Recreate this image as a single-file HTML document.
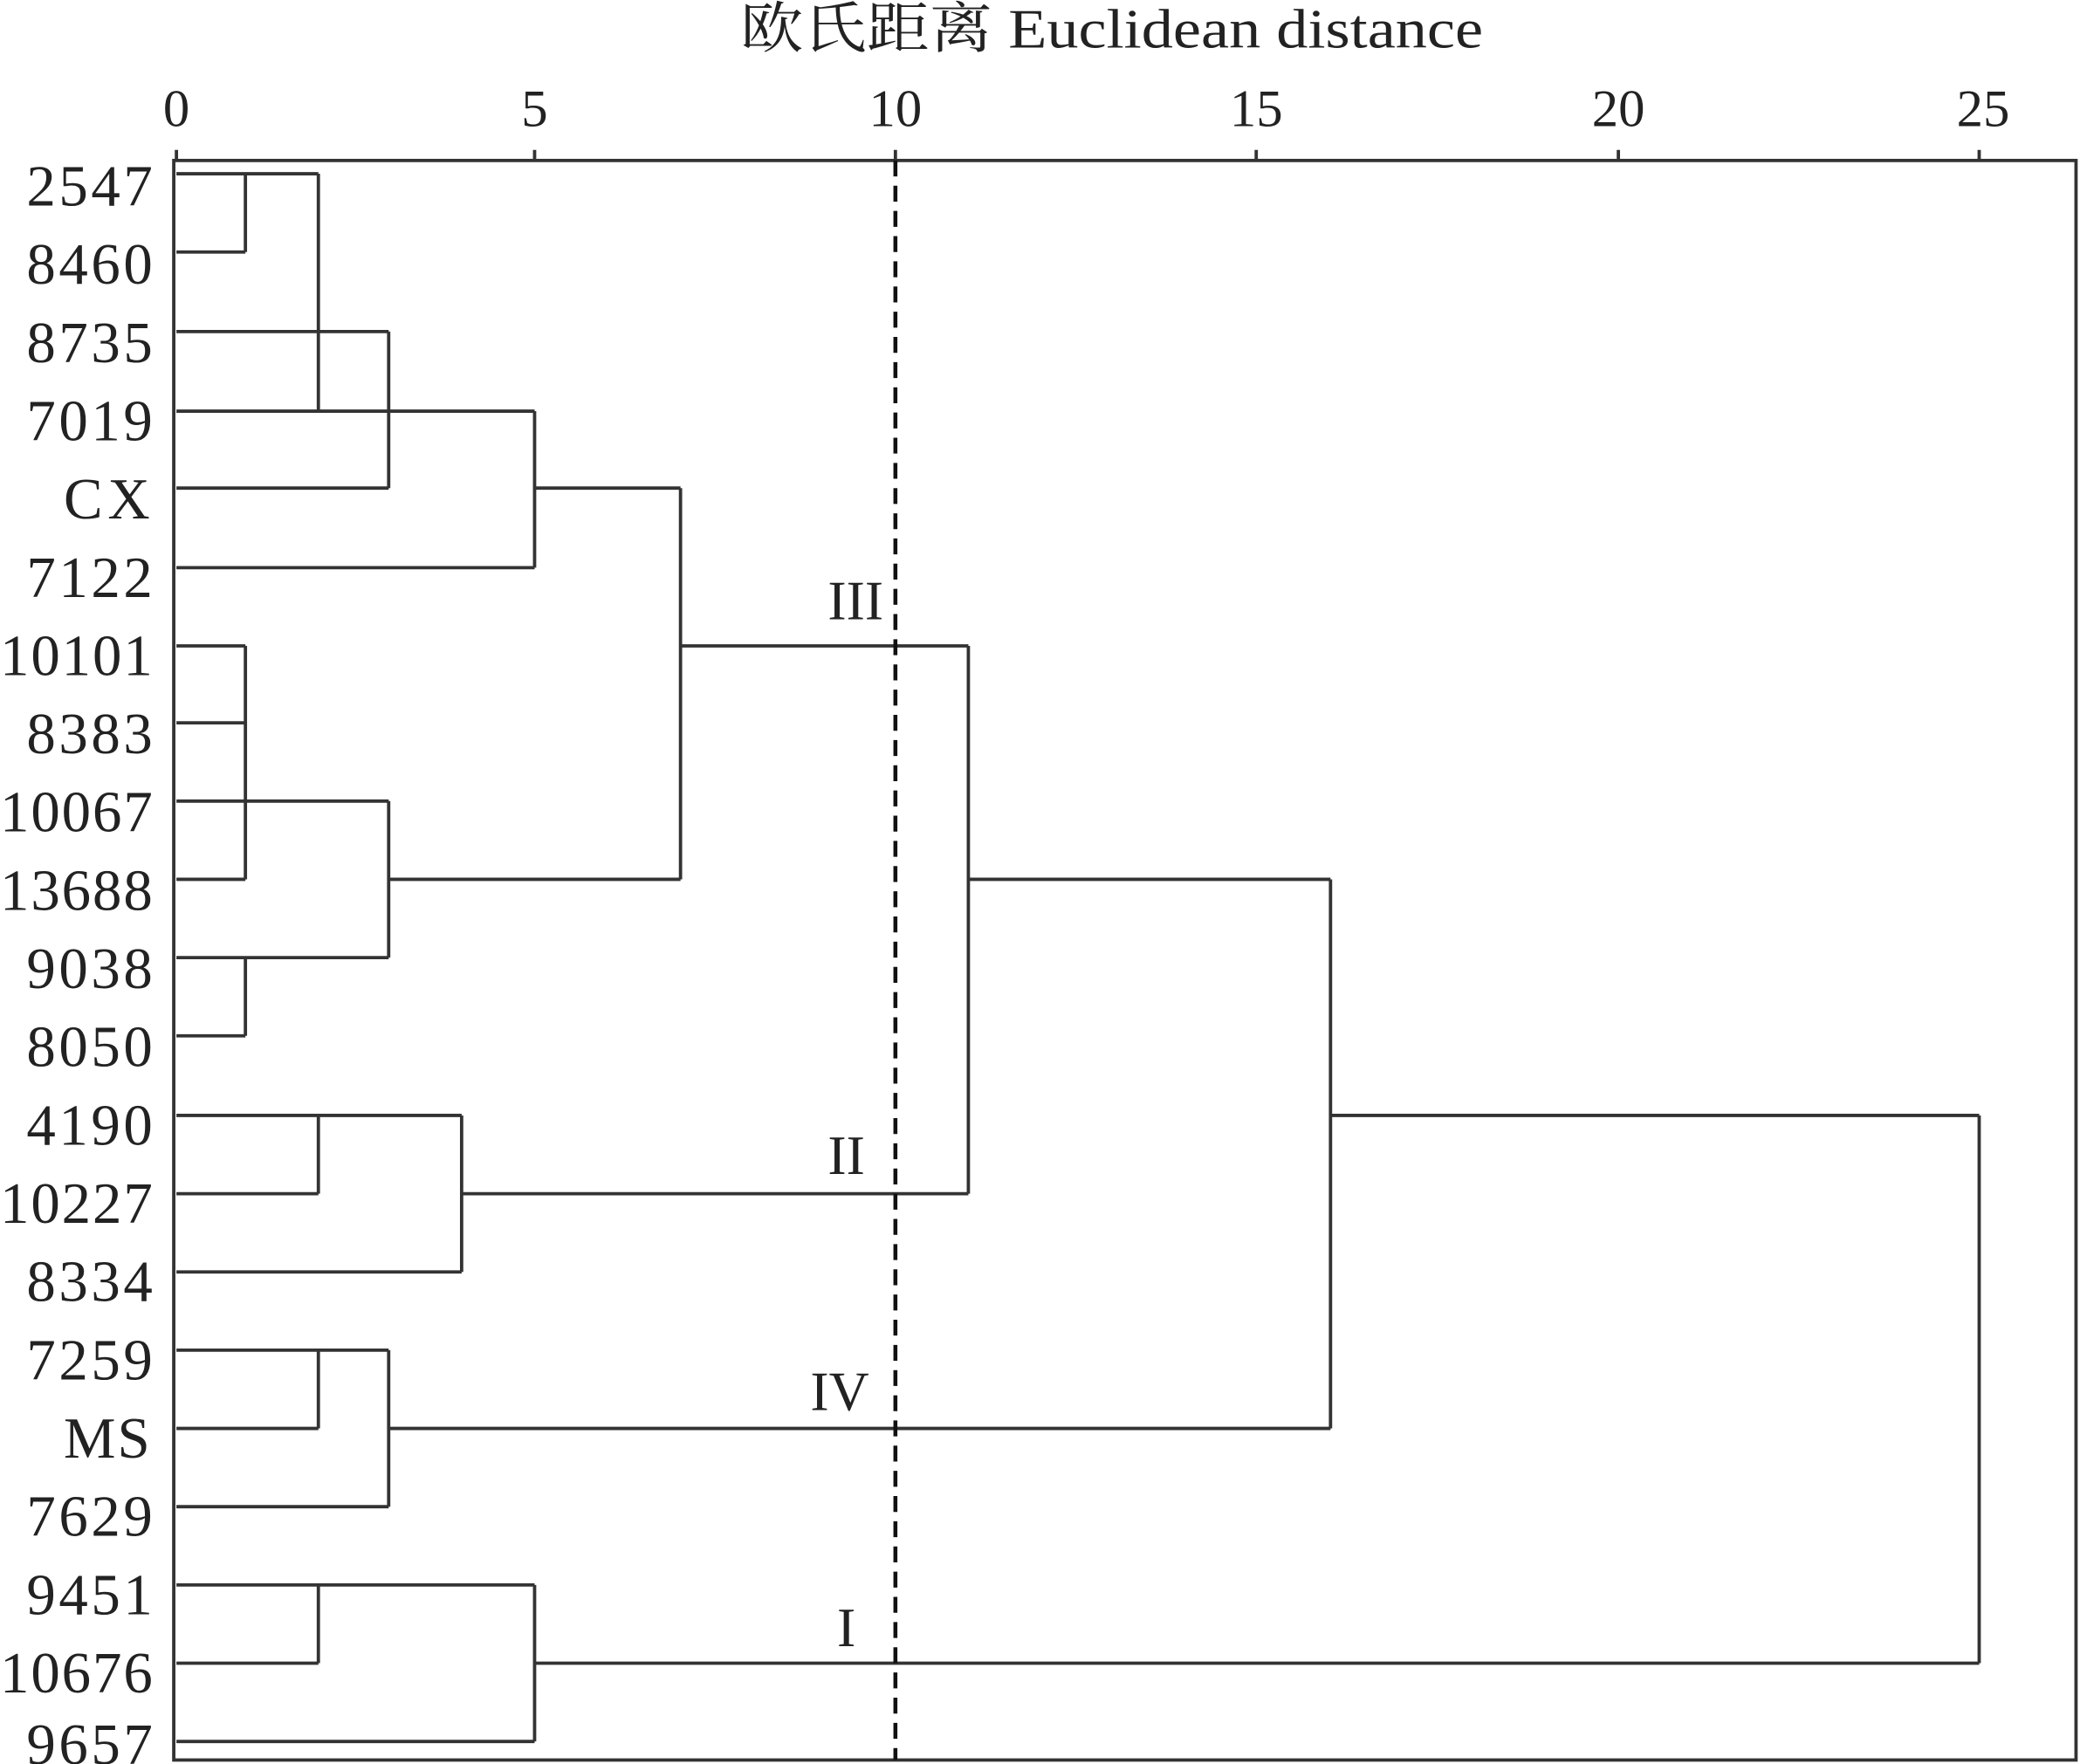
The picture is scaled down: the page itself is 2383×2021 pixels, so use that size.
<!DOCTYPE html>
<html><head><meta charset="utf-8"><style>html,body{margin:0;padding:0;background:#fff}svg{display:block}</style></head>
<body>
<svg width="2383" height="2021" viewBox="0 0 1568 1330" preserveAspectRatio="none" xmlns="http://www.w3.org/2000/svg">
<g font-family="Liberation Serif, Noto Serif CJK SC, serif" fill="#222">
<text x="558" y="36" font-size="42" textLength="560" lengthAdjust="spacingAndGlyphs">欧氏距离 Euclidean distance</text>
<g font-size="40" text-anchor="middle">
<text x="133" y="95">0</text><text x="403" y="95">5</text><text x="675" y="95">10</text><text x="947" y="95">15</text><text x="1220" y="95">20</text><text x="1495" y="95">25</text>
</g>
<g font-size="44" lengthAdjust="spacingAndGlyphs">
<text x="20" y="155" textLength="95">2547</text><text x="20" y="214" textLength="95">8460</text><text x="20" y="273" textLength="95">8735</text><text x="20" y="332" textLength="95">7019</text><text x="48" y="391" textLength="65">CX</text><text x="20" y="450" textLength="95">7122</text><text x="0" y="509" textLength="115">10101</text><text x="20" y="568" textLength="95">8383</text><text x="0" y="627" textLength="115">10067</text><text x="0" y="686" textLength="115">13688</text><text x="20" y="745" textLength="95">9038</text><text x="20" y="804" textLength="95">8050</text><text x="20" y="863" textLength="95">4190</text><text x="0" y="922" textLength="115">10227</text><text x="20" y="981" textLength="95">8334</text><text x="20" y="1040" textLength="95">7259</text><text x="48" y="1099" textLength="65">MS</text><text x="20" y="1158" textLength="95">7629</text><text x="20" y="1217" textLength="95">9451</text><text x="0" y="1276" textLength="115">10676</text><text x="20" y="1330" textLength="95">9657</text>
</g>
<g font-size="42" text-anchor="middle">
<text x="645" y="467">III</text><text x="638" y="885">II</text><text x="633" y="1063">IV</text><text x="638" y="1241">I</text>
</g>
</g>
<g stroke="#333" stroke-width="2.5" fill="none">
<rect x="131" y="121" width="1434" height="1206"/>
<path d="M133 121v-8M403 121v-8M675 121v-8M947 121v-8M1220 121v-8M1492 121v-8"/>
<path d="M133 131H240M133 190H185M185 131V190M240 131V310M133 250H293M133 310H240M293 250V368M133 368H293M240 310H403M403 310V428M133 428H403M403 368H513M513 368V663M513 487H730M730 487V900M730 663H1003M1003 663V1077M1003 841H1492M1492 841V1254"/>
<path d="M133 487H185M133 545H185M133 604H293M133 663H185M185 487V663M293 604V722M133 722H293M185 722V781M133 781H185M293 663H513"/>
<path d="M133 841H240M133 900H240M240 841V900M240 841H348M133 959H348M348 841V959M348 900H730"/>
<path d="M133 1018H293M133 1077H240M240 1018V1077M133 1136H293M293 1018V1136M293 1077H1003"/>
<path d="M133 1195H403M133 1254H240M240 1195V1254M133 1313H403M403 1195V1313M403 1254H1492"/>
</g>
<path d="M675 121V1327" stroke="#111" stroke-width="3" stroke-dasharray="12,7" fill="none"/>
</svg>
</body></html>
